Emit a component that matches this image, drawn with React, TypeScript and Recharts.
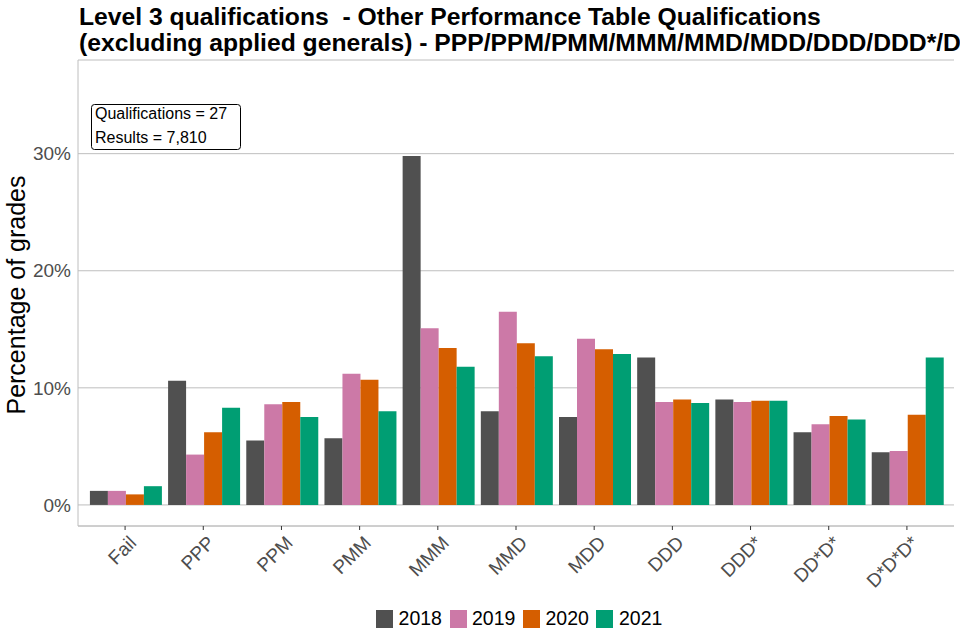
import { type ReactElement } from 'react';
import { Bar, BarChart, CartesianGrid, Legend, XAxis, YAxis } from 'recharts';

const grades = ['Fail', 'PPP', 'PPM', 'PMM', 'MMM', 'MMD', 'MDD', 'DDD', 'DDD*', 'DD*D*', 'D*D*D*'];
const years = ['2018', '2019', '2020', '2021'];
const pct2018 = [1.2, 10.6, 5.5, 5.7, 29.8, 8.0, 7.5, 12.6, 9.0, 6.2, 4.5];
const pct2019 = [1.2, 4.3, 8.6, 11.2, 15.1, 16.5, 14.2, 8.8, 8.8, 6.9, 4.6];
const pct2020 = [0.9, 6.2, 8.8, 10.7, 13.4, 13.8, 13.3, 9.0, 8.9, 7.6, 7.7];
const pct2021 = [1.6, 8.3, 7.5, 8.0, 11.8, 12.7, 12.9, 8.7, 8.9, 7.3, 12.6];
const yTicks = [0, 10, 20, 30];

const titleLines = [
    'Level 3 qualifications  - Other Performance Table Qualifications',
    '(excluding applied generals) - PPP/PPM/PMM/MMM/MMD/MDD/DDD/DDD*/DD*D*/D*D*D*',
];
const yTitle = 'Percentage of grades';
const noteLines = ['Qualifications = 27', 'Results = 7,810'];

const COLORS: Record<string, string> = {
    '2018': '#505050',
    '2019': '#CC79A7',
    '2020': '#D55E00',
    '2021': '#009E73',
};

const FONT = '"Liberation Sans", Arial, sans-serif';
const GRID = '#bebebe';

const chartData = grades.map((g, i) => ({
    grade: g,
    '2018': pct2018[i],
    '2019': pct2019[i],
    '2020': pct2020[i],
    '2021': pct2021[i],
}));

function AngledTick(props: any): ReactElement {
    const { x, y, payload } = props;
    const ax = x + 12.5;
    const ay = y + 14;
    return (
        <text
            x={ax}
            y={ay}
            transform={`rotate(-45, ${ax}, ${ay})`}
            textAnchor="end"
            fontSize={19}
            fontFamily={FONT}
            fill="#4d4d4d"
        >
            {payload.value}
        </text>
    );
}

function YearLegend(): ReactElement {
    return (
        <div style={{ display: 'flex', justifyContent: 'center', paddingLeft: 86, fontFamily: FONT }}>
            {years.map((y) => (
                <div key={y} style={{ display: 'flex', alignItems: 'center', marginRight: 7.6 }}>
                    <span style={{ width: 17, height: 18, background: COLORS[y], display: 'inline-block' }} />
                    <span style={{ marginLeft: 5.5, fontSize: 19.5, lineHeight: '19px', color: '#000' }}>{y}</span>
                </div>
            ))}
        </div>
    );
}

export default function App(): ReactElement {
    return (
        <div style={{ position: 'absolute', left: 0, top: 0, width: 960, height: 640, background: '#fff', overflow: 'hidden' }}>
            <BarChart
                width={960}
                height={640}
                data={chartData}
                margin={{ top: 60, right: 6, left: 0, bottom: 54 }}
                barGap={0}
                barCategoryGap="5%"
            >
                <CartesianGrid vertical={false} stroke={GRID} strokeWidth={1} />
                <XAxis
                    dataKey="grade"
                    interval={0}
                    height={60}
                    padding={{ left: 8, right: 8 }}
                    tickSize={4}
                    tickMargin={0}
                    tickLine={{ stroke: '#333' }}
                    axisLine={{ stroke: GRID }}
                    tick={<AngledTick />}
                />
                <YAxis
                    width={78}
                    type="number"
                    domain={[-1.8, 38]}
                    ticks={yTicks}
                    allowDataOverflow
                    tickFormatter={(v: number) => `${v}%`}
                    tickSize={0}
                    tickMargin={7}
                    axisLine={{ stroke: GRID }}
                    tickLine={false}
                    tick={{ fontSize: 19, fill: '#4d4d4d', fontFamily: FONT }}
                />
                <Legend
                    layout="horizontal"
                    verticalAlign="middle"
                    align="center"
                    wrapperStyle={{ left: 0, top: 609, width: 960, height: 19 }}
                    content={() => <YearLegend />}
                />
                {years.map((y) => (
                    <Bar key={y} dataKey={y} fill={COLORS[y]} isAnimationActive={false} />
                ))}
            </BarChart>
            <svg
                width={960}
                height={640}
                style={{ position: 'absolute', left: 0, top: 0, pointerEvents: 'none' }}
            >
                {titleLines.map((t, i) => (
                    <text
                        key={i}
                        x={79}
                        y={25 + i * 25.5}
                        fontSize={24.7}
                        fontWeight="bold"
                        fontFamily={FONT}
                        fill="#000"
                        style={{ whiteSpace: 'pre' }}
                    >
                        {t}
                    </text>
                ))}
                <text
                    x={25}
                    y={295}
                    transform="rotate(-90, 25, 295)"
                    textAnchor="middle"
                    fontSize={25}
                    fontFamily={FONT}
                    fill="#000"
                >
                    {yTitle}
                </text>
                <rect x={91.5} y={104.5} width={149} height={45} rx={3} ry={3} fill="#fff" stroke="#000" strokeWidth={1} />
                {noteLines.map((t, i) => (
                    <text key={i} x={95} y={118.5 + i * 24.5} fontSize={16} fontFamily={FONT} fill="#000">
                        {t}
                    </text>
                ))}
            </svg>
        </div>
    );
}
